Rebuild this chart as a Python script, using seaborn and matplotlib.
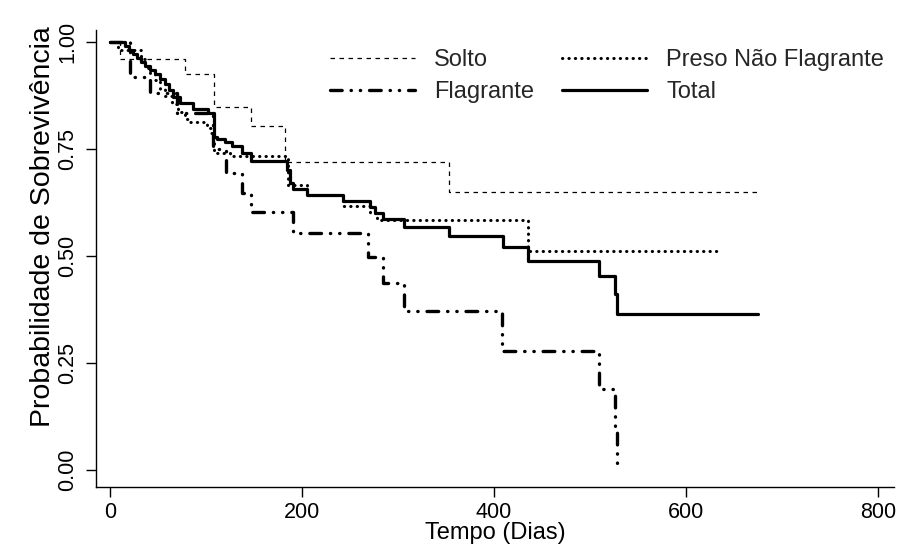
import matplotlib
matplotlib.use("Agg")
import matplotlib.pyplot as plt
import seaborn as sns

sns.set_theme(style="ticks")
plt.rcParams['font.family'] = ['Liberation Sans', 'DejaVu Sans']

# Kaplan-Meier curves: time (days) and survival probability
solto_t = [0, 10, 78, 108, 147, 182, 353, 674]
solto_s = [1.0, 0.960, 0.925, 0.848, 0.804, 0.720, 0.650, 0.650]

preso_t = [0, 8, 32, 36, 42, 47, 52, 57, 65, 71, 78, 81, 101, 105, 108, 125,
           185, 205, 243, 271, 278, 435, 633]
preso_s = [1.0, 0.981, 0.960, 0.940, 0.925, 0.910, 0.890, 0.874, 0.855, 0.836,
           0.820, 0.813, 0.800, 0.787, 0.741, 0.734, 0.666, 0.643, 0.617, 0.600,
           0.584, 0.512, 0.512]

flag_t = [0, 21, 42, 70, 107, 121, 138, 147, 191, 269, 284, 306, 408, 509, 526,
          528]
flag_s = [1.0, 0.917, 0.880, 0.833, 0.750, 0.694, 0.648, 0.602, 0.554, 0.498,
          0.437, 0.371, 0.278, 0.190, 0.093, 0.0]

total_t = [0, 16, 20, 24, 28, 32, 37, 42, 47, 52, 57, 62, 66, 73, 86, 102, 108,
           112, 120, 127, 138, 147, 184, 188, 191, 205, 243, 271, 276, 284, 306,
           353, 409, 435, 509, 526, 528, 675]
total_s = [1.0, 0.991, 0.981, 0.972, 0.963, 0.953, 0.944, 0.935, 0.925, 0.914,
           0.902, 0.888, 0.871, 0.857, 0.843, 0.834, 0.778, 0.773, 0.766, 0.757,
           0.741, 0.722, 0.701, 0.671, 0.657, 0.643, 0.629, 0.614, 0.600, 0.586,
           0.568, 0.547, 0.521, 0.488, 0.453, 0.411, 0.364, 0.364]

x_ticks = [0, 200, 400, 600, 800]
y_ticks = [0.0, 0.25, 0.5, 0.75, 1.0]

fig = plt.figure(figsize=(9.13, 5.5), dpi=100)
ax = fig.add_axes([0.1051, 0.1145, 0.8741, 0.831])

common = dict(estimator=None, errorbar=None, sort=False, drawstyle='steps-post',
              color='black', ax=ax)
sns.lineplot(x=solto_t, y=solto_s, label='Solto', lw=0.9,
             ls=(0, (3.6, 3.6)), **common)
sns.lineplot(x=preso_t, y=preso_s, label='Preso Não Flagrante', lw=2.2,
             ls=(0, (0.1, 2.0)), dash_capstyle='round', **common)
sns.lineplot(x=flag_t, y=flag_s, label='Flagrante', lw=2.4,
             ls=(0, (3.5, 2.67, 0.1, 2.67, 0.1, 2.67)), dash_capstyle='round',
             **common)
sns.lineplot(x=total_t, y=total_s, label='Total', lw=2.3, **common)

ax.set_xlim(-14.6, 816.7)
ax.set_ylim(-0.0397, 1.028)
ax.set_xticks(x_ticks)
ax.set_yticks(y_ticks)
ax.set_xticklabels([str(v) for v in x_ticks], fontsize=15.5)
ax.set_yticklabels(['%.2f' % v for v in y_ticks], rotation=90, va='center',
                   fontsize=15.5)
ax.tick_params(length=7, width=1, colors='black', pad=4)
ax.tick_params(axis='y', pad=6)
for sp in ['left', 'bottom']:
    ax.spines[sp].set_color('black')
    ax.spines[sp].set_linewidth(1)
sns.despine(ax=ax)

ax.set_xlabel('Tempo (Dias)', fontsize=17, labelpad=-1, color='black')
ax.set_ylabel('Probabilidade de Sobrevivência', fontsize=20.5, color='black')
ax.yaxis.set_label_coords(-0.05, 0.569)

h, l = ax.get_legend_handles_labels()
order = [0, 2, 1, 3]
ax.legend([h[i] for i in order], [l[i] for i in order], ncol=2,
          loc='upper left', bbox_to_anchor=(330 / 913, 1 - 49 / 550),
          bbox_transform=fig.transFigure, frameon=False, fontsize=17,
          handlelength=3.6, handletextpad=0.8, columnspacing=1.2,
          labelspacing=0.42, borderpad=0, borderaxespad=0)

fig.savefig('out.png', dpi=100)
